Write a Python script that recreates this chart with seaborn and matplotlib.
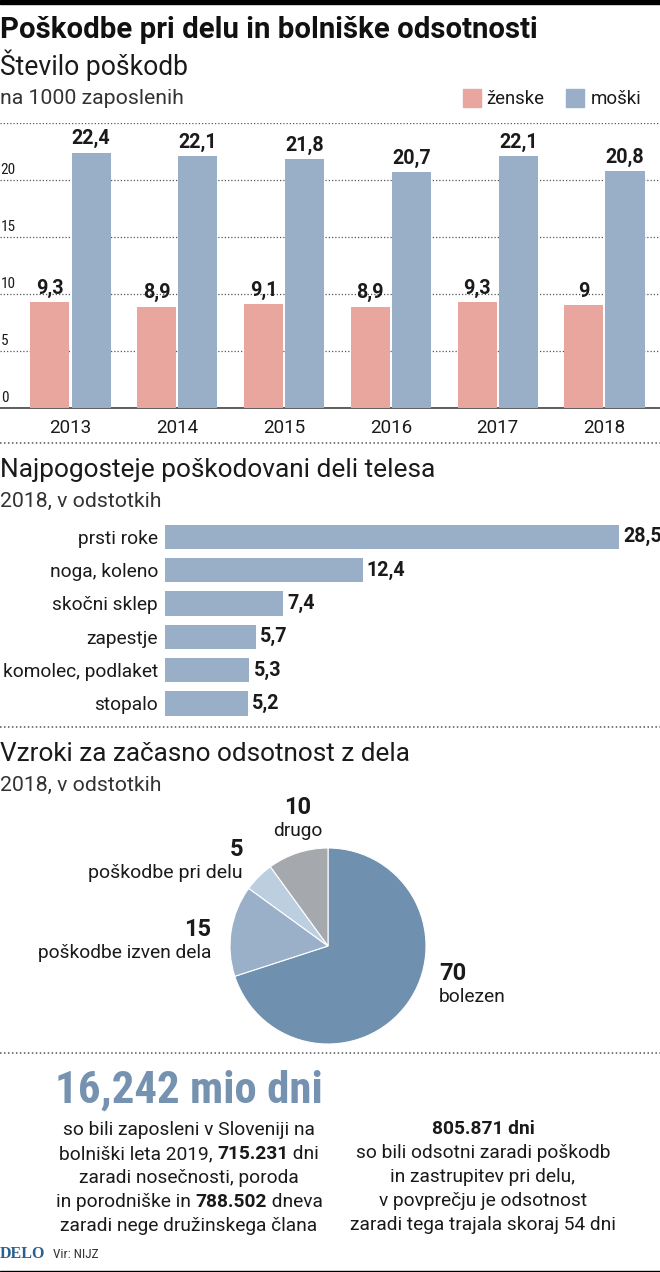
import matplotlib
matplotlib.use("Agg")

import pandas as pd
import seaborn as sns
import matplotlib.pyplot as plt
from matplotlib.lines import Line2D
from matplotlib.patches import Rectangle

W, H = 660, 1272

years = ['2013', '2014', '2015', '2016', '2017', '2018']
women = [9.3, 8.9, 9.1, 8.9, 9.3, 9.0]
men = [22.4, 22.1, 21.8, 20.7, 22.1, 20.8]
women_labels = ['9,3', '8,9', '9,1', '8,9', '9,3', '9']
men_labels = ['22,4', '22,1', '21,8', '20,7', '22,1', '20,8']
y_ticks = [0, 5, 10, 15, 20, 25]
y_tick_labels = ['0', '5', '10', '15', '20', '']

body_parts = ['prsti roke', 'noga, koleno', 'skočni sklep', 'zapestje', 'komolec, podlaket', 'stopalo']
body_values = [28.5, 12.4, 7.4, 5.7, 5.3, 5.2]
body_labels = ['28,5', '12,4', '7,4', '5,7', '5,3', '5,2']

cause_values = [70, 15, 5, 10]

PINK = '#e9a69f'
BLUE = '#98afc7'
DARK = '#1a1a1a'

sns.set_style("white")
plt.rcParams['font.family'] = ['Roboto', 'DejaVu Sans']

fig = plt.figure(figsize=(W / 100, H / 100), dpi=100, facecolor='white')


def px_axes(x0, y0, x1, y1):
    # axes from pixel box, y counted from the top
    return fig.add_axes([x0 / W, 1 - y1 / H, (x1 - x0) / W, (y1 - y0) / H])


def txt(x, y, s, size=13, weight='normal', ha='left', va='center', color=DARK, **kw):
    return fig.text(x / W, 1 - y / H, s, fontsize=size, fontweight=weight, ha=ha, va=va, color=color, **kw)


def dotted(y, color='#555555'):
    fig.add_artist(Line2D([0, 1], [1 - y / H, 1 - y / H], color=color, lw=1.1,
                          linestyle=(0, (1, 1.6)), transform=fig.transFigure))


# top and bottom rules
fig.add_artist(Rectangle((0, 1 - 4 / H), 1, 4 / H, color='black', transform=fig.transFigure))
fig.add_artist(Rectangle((0, 0), 1, 1.5 / H, color='black', transform=fig.transFigure))

# headers
txt(0, 30, 'Poškodbe pri delu in bolniške odsotnosti', size=21.2, weight='bold', color='#111111')
txt(0, 65, 'Število poškodb', size=19.1)
txt(0, 99, 'na 1000 zaposlenih', size=15.3, color='#333333')

# legend
fig.add_artist(Rectangle((463 / W, 1 - 107 / H), 18 / W, 18 / H, color=PINK, transform=fig.transFigure))
txt(486, 99, 'ženske', size=13.3)
fig.add_artist(Rectangle((566 / W, 1 - 107 / H), 18 / W, 18 / H, color=BLUE, transform=fig.transFigure))
txt(591, 99, 'moški', size=13.5)

# grouped bars
df = pd.DataFrame({
    'year': years * 2,
    'value': women + men,
    'sex': ['ženske'] * len(years) + ['moški'] * len(years),
})
ax = px_axes(0, 123, W, 408)
sns.barplot(data=df, x='year', y='value', hue='sex', palette=[PINK, BLUE], width=0.77, gap=0.05,
            legend=False, ax=ax, saturation=1, zorder=3, linewidth=0)
ax.set_xlim(-0.66, 5.52)
ax.set_ylim(0, 25)
ax.set_xlabel('')
ax.set_ylabel('')
ax.set_yticks(y_ticks)
ax.set_yticklabels([])
ax.tick_params(axis='x', length=0, pad=8, labelsize=13.5, labelcolor=DARK)
ax.tick_params(axis='y', length=0)
ax.grid(axis='y', color='#555555', lw=0.9, linestyle=(0, (1, 1.6)), zorder=0)
ax.grid(axis='x', visible=False)
sns.despine(ax=ax, left=True, top=True, right=True)
ax.spines['bottom'].set_color('#333333')
ax.spines['bottom'].set_linewidth(1.1)
ax.patch.set_alpha(0)
for t, lab in zip(y_ticks, y_tick_labels):
    ax.text(0.001, t + 0.25, lab, transform=ax.get_yaxis_transform(), fontsize=11,
            ha='left', va='bottom', color=DARK, family=['Roboto Condensed', 'Roboto'])
for bars, labs in zip(ax.containers, [women_labels, men_labels]):
    ax.bar_label(bars, labels=labs, padding=3, fontsize=14.2, fontweight='bold', color=DARK)

dotted(443)

# body parts
txt(0, 470, 'Najpogosteje poškodovani deli telesa', size=18.9)
txt(0, 501, '2018, v odstotkih', size=15.3, color='#333333')

body_df = pd.DataFrame({'part': body_parts, 'value': body_values})
ax2 = px_axes(165, 520, W, 720)
sns.barplot(data=body_df, y='part', x='value', color=BLUE, saturation=1, width=0.73, ax=ax2, linewidth=0)
ax2.set_xlim(0, 495 / 15.93)
ax2.set_ylim(5.5, -0.5)
ax2.set_xlabel('')
ax2.set_ylabel('')
ax2.set_xticks([])
ax2.tick_params(axis='y', length=0, pad=5, labelsize=13.8, labelcolor=DARK)
sns.despine(ax=ax2, left=True, bottom=True)
ax2.bar_label(ax2.containers[0], labels=body_labels, padding=3, fontsize=14.2, fontweight='bold', color=DARK)

dotted(727)

# causes
txt(0, 754, 'Vzroki za začasno odsotnost z dela', size=18.8)
txt(0, 785, '2018, v odstotkih', size=15.3, color='#333333')

ax3 = px_axes(228, 846, 428, 1046)
ax3.pie(cause_values, colors=['#6f90ae', '#9ab0c8', '#bccfe0', '#a5a9ad'], startangle=90, counterclock=False,
        radius=0.98, wedgeprops=dict(edgecolor='white', linewidth=0.8))
ax3.set_xlim(-1, 1)
ax3.set_ylim(-1, 1)

txt(298, 808, '10', size=17, weight='bold', ha='center')
txt(298, 831, 'drugo', size=13.8, ha='center')
txt(243, 850, '5', size=17, weight='bold', ha='right')
txt(243, 873, 'poškodbe pri delu', size=14, ha='right')
txt(211, 930, '15', size=17, weight='bold', ha='right')
txt(211, 953, 'poškodbe izven dela', size=13.8, ha='right')
txt(439, 974, '70', size=17, weight='bold')
txt(439, 997, 'bolezen', size=13.8)

dotted(1053)

# key figures
txt(189, 1091, '16,242 mio dni', size=32.3, weight='bold', ha='center', color='#7592b0',
    family=['Roboto Condensed', 'Roboto'])

BODY = 13.8
renderer = fig.canvas.get_renderer()


def mixed(xc, y, parts, size=BODY):
    # line with bold runs, centred on xc
    widths = []
    for s, w in parts:
        probe = txt(0, y, s, size=size, weight=w)
        widths.append(probe.get_window_extent(renderer).width)
        probe.remove()
    x = xc - sum(widths) / 2
    for (s, w), wd in zip(parts, widths):
        txt(x, y, s, size=size, weight=w)
        x += wd


txt(189, 1130, 'so bili zaposleni v Sloveniji na', size=BODY, ha='center')
mixed(189, 1154, [('bolniški leta 2019, ', 'normal'), ('715.231', 'bold'), (' dni', 'normal')])
txt(189, 1178, 'zaradi nosečnosti, poroda', size=BODY, ha='center')
mixed(189, 1202, [('in porodniške in ', 'normal'), ('788.502', 'bold'), (' dneva', 'normal')])
txt(189, 1226, 'zaradi nege družinskega člana', size=BODY, ha='center')

txt(483, 1129, '805.871 dni', size=BODY, weight='bold', ha='center')
right_lines = ['so bili odsotni zaradi poškodb', 'in zastrupitev pri delu,', 'v povprečju je odsotnost',
               'zaradi tega trajala skoraj 54 dni']
for i, s in enumerate(right_lines):
    txt(483, 1153 + i * 24, s, size=BODY, ha='center')

# footer
txt(0, 1254, 'DELO', size=11.5, weight='bold', color='#2a5f8f', family=['Liberation Serif'])
txt(53, 1254, 'Vir: NIJZ', size=9.5, color='#333333', family=['Roboto Condensed', 'Roboto'])

fig.savefig('out.png', dpi=100)
plt.close(fig)
